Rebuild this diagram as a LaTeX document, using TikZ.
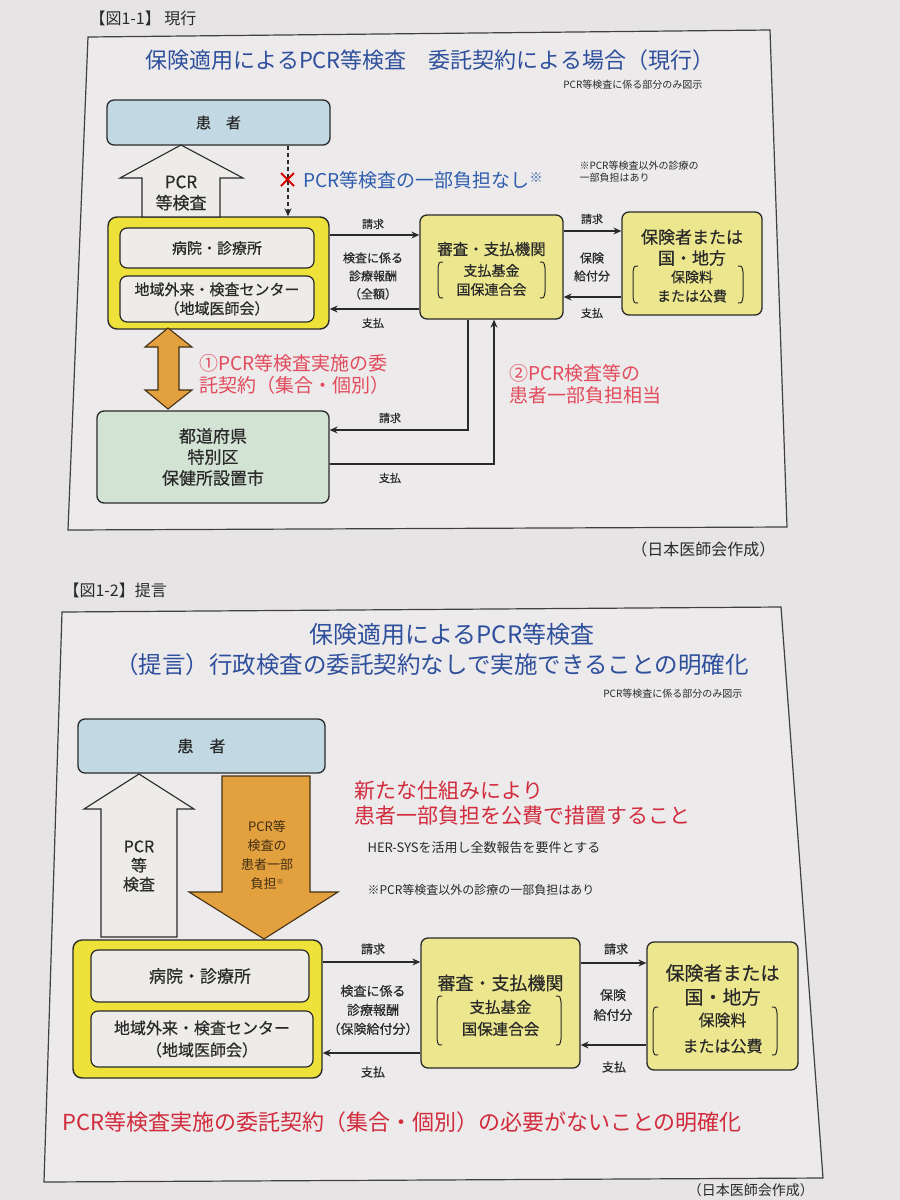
\documentclass[tikz,border=0pt]{standalone}
\usepackage{fontspec}
\setmainfont{Noto Sans CJK JP}
\newfontfamily\jpm{Noto Sans CJK JP}[FakeBold=0.5]
\usetikzlibrary{arrows.meta}
\definecolor{paper}{HTML}{E6E4E5}
\definecolor{paperin}{HTML}{ECEAEB}
\definecolor{ink}{HTML}{2A2A2A}
\definecolor{ttlblue}{HTML}{2E4F9C}
\definecolor{noteblue}{HTML}{2F5DAE}
\definecolor{pinkred}{HTML}{E34B5C}
\definecolor{deepred}{HTML}{D12B3C}
\definecolor{patblue}{HTML}{C2D9E4}
\definecolor{brightyel}{HTML}{EDE13A}
\definecolor{paleyel}{HTML}{ECE78E}
\definecolor{innerw}{HTML}{EDECE8}
\definecolor{orangef}{HTML}{E2A03E}
\definecolor{greenf}{HTML}{D2E2D3}
\newcommand\fsz[2]{\fontsize{#1}{#2}\selectfont}
\newcommand\brkL[3]{\draw[brk] (#1+5,#2) .. controls (#1+1,#2) .. (#1,#2+6) -- (#1,#3-6) .. controls (#1+1,#3) .. (#1+5,#3);}
\newcommand\brkR[3]{\draw[brk] (#1-5,#2) .. controls (#1-1,#2) .. (#1,#2+6) -- (#1,#3-6) .. controls (#1-1,#3) .. (#1-5,#3);}
\tikzset{
 bx/.style={draw=ink, line width=1.3pt, rounded corners=7pt, inner sep=0pt, align=center, text=ink},
 pat/.style={bx, fill=patblue},
 outerbx/.style={bx, fill=brightyel, line width=1.4pt, rounded corners=9pt},
 innerbx/.style={bx, fill=innerw, line width=1.2pt, rounded corners=7pt},
 orgbx/.style={bx, fill=paleyel},
 grnbx/.style={bx, fill=greenf},
 lbl/.style={text=ink, inner sep=0pt, font=\jpm\fsz{11}{13}},
 mid/.style={text=ink, inner sep=0pt, align=center, font=\jpm\fsz{12}{18}},
 arr/.style={draw=ink, line width=1.1pt, -{Stealth[length=8pt,width=7pt]}},
 hollow/.style={draw=ink, line width=1.1pt, fill=innerw, line join=miter},
 orangearr/.style={draw=black!70!orangef, line width=1.1pt, fill=orangef, line join=miter},
 brk/.style={draw=ink, line width=1pt},
 frm/.style={draw=black!75, line width=1.2pt, fill=paperin},
}
\begin{document}
\begin{tikzpicture}[x=1pt,y=-1pt]
\fill[paper] (0,0) rectangle (900,1200);
\useasboundingbox (0,0) rectangle (900,1200);
\draw[frm] (88,37) -- (770,30) -- (787,527) -- (68,530) -- cycle;
\draw[frm] (62,612) -- (781,607) -- (823,1178) -- (44,1182) -- cycle;

% ---------- figure 1-1 ----------
\node[anchor=west, text=ink, font=\fsz{16}{18}] (fig1) at (86,18) {【図1-1】 現行};
\node[text=ttlblue, font=\fsz{22}{26}] (title1) at (430,60) {保険適用によるPCR等検査　委託契約による場合（現行）};
\node[anchor=east, text=ink, font=\fsz{10}{12}] (sub1) at (706,85) {PCR等検査に係る部分のみ図示};

\node[pat, minimum width=223, minimum height=45, font=\jpm\fsz{15}{18}] (pat1) at (218.5,122.5) {患　者};
\node[outerbx, minimum width=221, minimum height=112] (out1) at (218.5,273) {};
\node[innerbx, minimum width=194, minimum height=40, font=\jpm\fsz{15}{18}] (hosp1) at (217,248) {病院・診療所};
\node[innerbx, minimum width=194, minimum height=46, font=\jpm\fsz{15}{19}] (ctr1) at (217,299) {地域外来・検査センター\\（地域医師会）};

\node[orgbx, minimum width=143, minimum height=104] (shin1) at (491.5,267) {};
\node[text=ink, font=\jpm\fsz{15.5}{18}] (shin1a) at (491.5,249) {審査・支払機関};
\node[text=ink, align=center, font=\jpm\fsz{14}{19}] (shin1b) at (491.5,280) {支払基金\\国保連合会};
\brkL{438}{262}{298}
\brkR{545}{262}{298}

\node[orgbx, minimum width=140, minimum height=103] (hok1) at (692,263.5) {};
\node[text=ink, align=center, font=\jpm\fsz{17}{21}] (hok1a) at (692,247.5) {保険者または\\国・地方};
\node[text=ink, align=center, font=\jpm\fsz{14}{19}] (hok1b) at (692,286.5) {保険料\\または公費};
\brkL{633}{266}{303}
\brkR{743}{266}{303}

\node[grnbx, minimum width=232, minimum height=92, font=\jpm\fsz{17}{21}] (grn1) at (213,457) {都道府県\\特別区\\保健所設置市};

% hollow up arrow
\draw[hollow] (142,217) -- (142,178) -- (120,178) -- (181,145) -- (243,178) -- (220,178) -- (220,217) -- cycle;
\node[align=center, text=ink, font=\jpm\fsz{17}{21}] (pcr1) at (181,193) {PCR\\等検査};

% dashed arrow with red cross
\coordinate (dx1) at (288,0);
\draw[arr, dash pattern=on 4pt off 3pt] (pat1.south -| dx1) -- (out1.north -| dx1);
\draw[draw=red!85!black, line width=2pt] (281,173) -- (294,186) (281,186) -- (294,173);
\node[anchor=west, text=noteblue, font=\fsz{19}{22}] (nof1) at (300,180) {PCR等検査の一部負担なし\raisebox{5pt}{\fsz{13}{13}※}};
\node[anchor=north west, align=left, text=ink, font=\fsz{10}{12}] (note1) at (576,158) {※PCR等検査以外の診療の\\一部負担はあり};

% horizontal flows
\coordinate (ya) at (0,235);
\coordinate (yb) at (0,309);
\coordinate (yc) at (0,231);
\coordinate (yd) at (0,297);
\draw[arr] (out1.east|-ya) -- (shin1.west|-ya);
\draw[arr] (shin1.west|-yb) -- (out1.east|-yb);
\node[lbl] (q1) at (373,224) {請求};
\node[lbl] (p1) at (373,323) {支払};
\node[mid] (m1) at (373,276) {検査に係る\\診療報酬\\（全額）};
\draw[arr] (shin1.east|-yc) -- (hok1.west|-yc);
\draw[arr] (hok1.west|-yd) -- (shin1.east|-yd);
\node[lbl] (q2) at (592,219) {請求};
\node[lbl] (p2) at (592,313) {支払};
\node[mid] (m2) at (592,267) {保険\\給付分};

% orange double arrow
\draw[orangearr] (168,328) -- (192,347) -- (179,347) -- (179,390) -- (192,390) -- (168,409) -- (145,390) -- (158,390) -- (158,347) -- (145,347) -- cycle;
\node[anchor=north west, align=left, text=pinkred, font=\fsz{19}{22}] (r1) at (196,351) {①PCR等検査実施の委\\託契約（集合・個別）};

% flows to prefecture
\coordinate (x468) at (468,0);
\coordinate (x494) at (494,0);
\coordinate (y430) at (0,430);
\coordinate (y464) at (0,464);
\draw[arr] (shin1.south -| x468) |- (grn1.east |- y430);
\draw[arr] (grn1.east |- y464) -| (shin1.south -| x494);
\node[lbl] (q3) at (390,418) {請求};
\node[lbl] (p3) at (390,478) {支払};
\node[anchor=north west, align=left, text=pinkred, font=\fsz{19}{22}] (r2) at (506,361) {②PCR検査等の\\患者一部負担相当};
\node[anchor=east, text=ink, font=\fsz{16}{18}] (cred1) at (779,549) {（日本医師会作成）};

% ---------- figure 1-2 ----------
\node[anchor=west, text=ink, font=\fsz{16}{18}] (fig2) at (60,590) {【図1-2】提言};
\node[text=ttlblue, font=\fsz{24}{28}] (title2a) at (452,634) {保険適用によるPCR等検査};
\node[text=ttlblue, font=\fsz{23.5}{28}] (title2b) at (432,665) {（提言）行政検査の委託契約なしで実施できることの明確化};
\node[anchor=east, text=ink, font=\fsz{10}{12}] (sub2) at (746,694) {PCR等検査に係る部分のみ図示};

\node[pat, minimum width=247, minimum height=54, font=\jpm\fsz{16}{18}] (pat2) at (201.5,746) {患　者};

\draw[hollow] (101,937) -- (101,809) -- (84,809) -- (139,774) -- (194,809) -- (177,809) -- (177,937) -- cycle;
\node[align=center, text=ink, font=\jpm\fsz{16}{19}] (pcr2) at (139,866) {PCR\\等\\検査};

\draw[orangearr] (222,776) -- (310,776) -- (310,892) -- (338,892) -- (264,939) -- (189,892) -- (222,892) -- cycle;
\node[align=center, text=black!70!orangef, font=\fsz{13}{19}] (ob2) at (267,855) {PCR等\\検査の\\患者一部\\負担\raisebox{4pt}{\fsz{7}{7}※}};

\node[anchor=north west, align=left, text=deepred, font=\fsz{21}{25}] (r3) at (351,777) {新たな仕組みにより\\患者一部負担を公費で措置すること};
\node[anchor=west, text=ink, font=\fsz{13}{15}] (her) at (364,848) {HER-SYSを活用し全数報告を要件とする};
\node[anchor=west, text=ink, font=\fsz{12}{14}] (note2) at (364,890) {※PCR等検査以外の診療の一部負担はあり};

\node[outerbx, minimum width=249, minimum height=138] (out2) at (197.5,1009) {};
\node[innerbx, minimum width=218, minimum height=52, font=\jpm\fsz{17}{19}] (hosp2) at (200,976) {病院・診療所};
\node[innerbx, minimum width=222, minimum height=56, font=\jpm\fsz{16}{22}] (ctr2) at (202,1039) {地域外来・検査センター\\（地域医師会）};

\node[orgbx, minimum width=159, minimum height=130] (shin2) at (500.5,1003) {};
\node[text=ink, font=\jpm\fsz{18}{20}] (shin2a) at (500.5,983) {審査・支払機関};
\node[text=ink, align=center, font=\jpm\fsz{15.5}{22}] (shin2b) at (500.5,1018) {支払基金\\国保連合会};
\brkL{437}{996}{1045}
\brkR{561}{996}{1045}

\node[orgbx, minimum width=151, minimum height=128] (hok2) at (722.5,1006) {};
\node[text=ink, align=center, font=\jpm\fsz{19}{24}] (hok2a) at (722.5,985) {保険者または\\国・地方};
\node[text=ink, align=center, font=\jpm\fsz{16}{26}] (hok2b) at (722.5,1033) {保険料\\または公費};
\brkL{653}{1007}{1055}
\brkR{777}{1007}{1055}

\coordinate (ye) at (0,962);
\coordinate (yf) at (0,1053);
\coordinate (yg) at (0,963);
\coordinate (yh) at (0,1045);
\draw[arr] (out2.east|-ye) -- (shin2.west|-ye);
\draw[arr] (shin2.west|-yf) -- (out2.east|-yf);
\node[lbl, font=\jpm\fsz{12}{14}] (q4) at (373,949) {請求};
\node[lbl, font=\jpm\fsz{12}{14}] (p4) at (373,1072) {支払};
\node[mid, font=\jpm\fsz{13}{19}] (m4) at (373,1010) {検査に係る\\診療報酬\\（保険給付分）};
\draw[arr] (shin2.east|-yg) -- (hok2.west|-yg);
\draw[arr] (hok2.west|-yh) -- (shin2.east|-yh);
\node[lbl, font=\jpm\fsz{12}{14}] (q5) at (616,949) {請求};
\node[lbl, font=\jpm\fsz{12}{14}] (p5) at (614,1067) {支払};
\node[mid, font=\jpm\fsz{13}{20}] (m5) at (613,1005) {保険\\給付分};

\node[text=deepred, font=\fsz{22}{26}] (r4) at (402,1122) {PCR等検査実施の委託契約（集合・個別）の必要がないことの明確化};
\node[anchor=east, inner sep=0pt, text=ink, font=\fsz{14}{16}] (cred2) at (814,1190) {（日本医師会作成）};
\end{tikzpicture}
\end{document}
